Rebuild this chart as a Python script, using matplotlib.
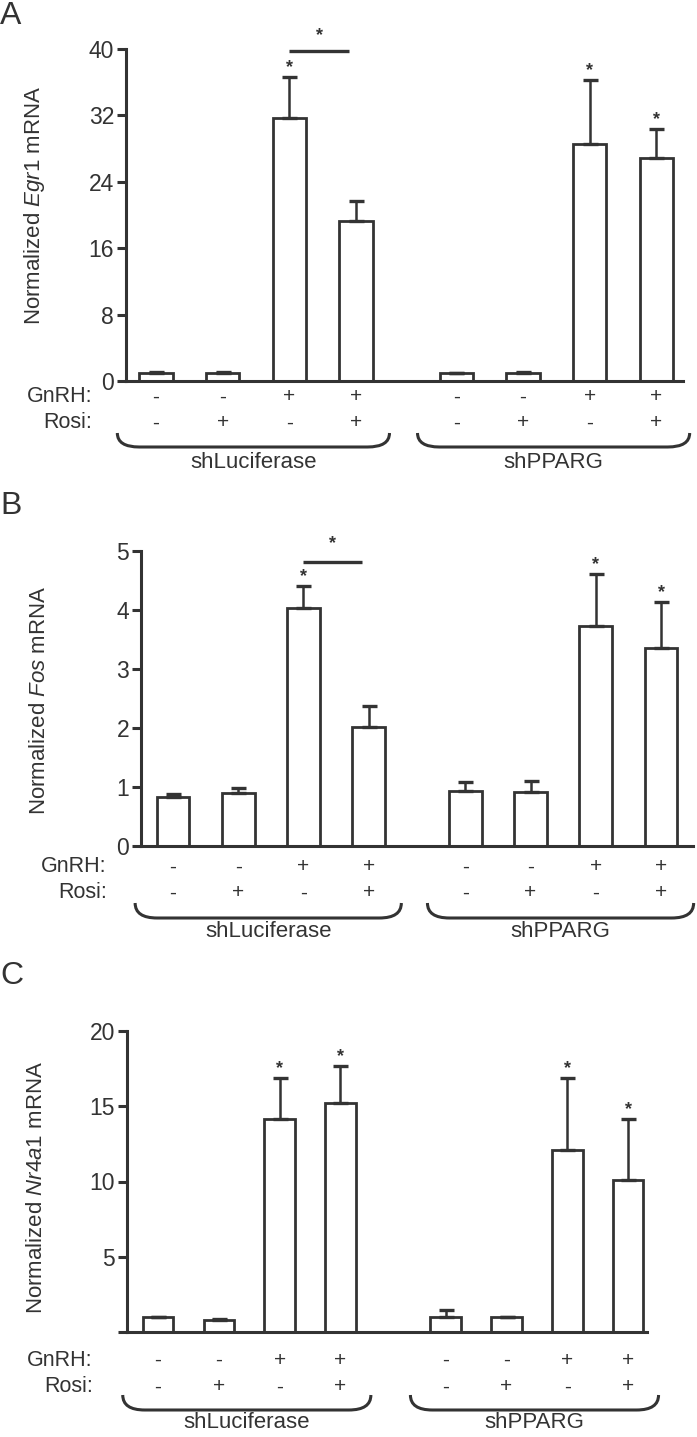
import numpy as np
import matplotlib
matplotlib.use("Agg")
import matplotlib.pyplot as plt
import matplotlib.transforms as mtransforms
from matplotlib.path import Path
from matplotlib.patches import PathPatch

plt.rcParams['font.family'] = ['Liberation Sans', 'DejaVu Sans']
plt.rcParams['mathtext.fontset'] = 'custom'
plt.rcParams['mathtext.rm'] = 'Liberation Sans'
plt.rcParams['mathtext.it'] = 'Liberation Sans:italic'

INK = '#333333'
W, H, DPI = 697, 1437, 100

# --- data ---
gnrh = ['-', '-', '+', '+', '-', '-', '+', '+']
rosi = ['-', '+', '-', '+', '-', '+', '-', '+']
groups = ['shLuciferase', 'shPPARG']

egr1_mean = [1.0, 1.0, 31.7, 19.3, 1.0, 1.0, 28.6, 26.9]
egr1_err = [0.12, 0.12, 4.9, 2.4, 0.0, 0.12, 7.7, 3.5]
egr1_star = [0, 0, 1, 0, 0, 0, 1, 1]
egr1_ticks = [0, 8, 16, 24, 32, 40]

fos_mean = [0.83, 0.89, 4.04, 2.02, 0.93, 0.91, 3.73, 3.36]
fos_err = [0.05, 0.09, 0.37, 0.35, 0.15, 0.20, 0.88, 0.78]
fos_star = [0, 0, 1, 0, 0, 0, 1, 1]
fos_ticks = [0, 1, 2, 3, 4, 5]

nr4a1_mean = [1.0, 0.8, 14.15, 15.2, 1.0, 1.0, 12.1, 10.1]
nr4a1_err = [0.0, 0.07, 2.75, 2.5, 0.45, 0.0, 4.8, 4.05]
nr4a1_star = [0, 0, 1, 1, 0, 0, 1, 1]
nr4a1_ticks = [0, 5, 10, 15, 20]
nr4a1_ticklabels = ['', '5', '10', '15', '20']

fig = plt.figure(figsize=(W / DPI, H / DPI), dpi=DPI)


def panel(box, gap, xlim, ylim, mean, err, star, ticks, ticklabels, gene,
          letter, letter_y, ylabel_xy, rows, sig=None):
    l, t, r, b = box
    aw, ah = r - l, b - t
    ax = fig.add_axes([l / W, 1 - b / H, aw / W, ah / H])
    idx = np.arange(len(mean))
    x = idx + (gap - 1) * (idx >= 4)
    ax.bar(x, mean, width=0.5, facecolor='white', edgecolor=INK,
           linewidth=2.0, zorder=2)
    ax.errorbar(x, mean, yerr=[np.zeros(len(err)), err], fmt='none',
                ecolor=INK, elinewidth=1.8, capsize=5.4, capthick=2.4,
                zorder=3)
    for xi, m, e, s in zip(x, mean, err, star):
        if s:
            ax.annotate('*', (xi, m + e), xytext=(0, 0.5),
                        textcoords='offset points', ha='center', va='bottom',
                        fontsize=13, fontweight='bold', color=INK,
                        annotation_clip=False)
    ax.set_xlim(*xlim)
    ax.set_ylim(*ylim)
    ax.set_xticks([])
    ax.set_yticks(ticks)
    ax.set_yticklabels(ticklabels)
    for side in ['top', 'right']:
        ax.spines[side].set_visible(False)
    for side in ['left', 'bottom']:
        ax.spines[side].set_linewidth(2.2)
        ax.spines[side].set_color(INK)
    ax.tick_params(axis='y', direction='out', length=6.5, width=2.2,
                   colors=INK, labelsize=16.5, pad=2)
    ax.patch.set_alpha(0)

    ax.set_ylabel(r'Normalized $\mathit{%s}$ mRNA' % gene, fontsize=16,
                  color=INK)
    ax.yaxis.set_label_coords((ylabel_xy[0] - l) / aw,
                              (b - ylabel_xy[1]) / ah)

    # significance bracket between bar 3 and bar 4
    if sig is not None:
        ly, sy = sig
        ax.plot([x[2], x[3] - 0.1], [ly, ly], color=INK, lw=2.4,
                clip_on=False, solid_capstyle='butt')
        ax.text((x[2] + x[3] - 0.1) / 2, sy, '*', ha='center', va='center',
                fontsize=13, fontweight='bold', color=INK, clip_on=False)

    # treatment rows and group braces
    tr = mtransforms.blended_transform_factory(ax.transData, ax.transAxes)
    g_y, r_y, b_top, b_bot, lab_y = [v / ah for v in rows]
    lab_x = -34 / aw
    ax.text(lab_x, -g_y, 'GnRH:', transform=ax.transAxes, ha='right',
            va='center', fontsize=15.5, color=INK)
    ax.text(lab_x, -r_y, 'Rosi:', transform=ax.transAxes, ha='right',
            va='center', fontsize=15.5, color=INK)
    for xi, gsign, rsign in zip(x, gnrh, rosi):
        ax.text(xi, -g_y, gsign, transform=tr, ha='center', va='center',
                fontsize=15, color=INK)
        ax.text(xi, -r_y, rsign, transform=tr, ha='center', va='center',
                fontsize=15, color=INK)
    unit = aw / (xlim[1] - xlim[0])
    rad = 22 / unit
    for gi, name in enumerate(groups):
        x0 = x[gi * 4] - 0.58
        x1 = x[gi * 4 + 3] + 0.5
        verts = [(x0, -b_top), (x0, -b_bot), (x0 + rad, -b_bot),
                 (x1 - rad, -b_bot), (x1, -b_bot), (x1, -b_top)]
        codes = [Path.MOVETO, Path.CURVE3, Path.CURVE3, Path.LINETO,
                 Path.CURVE3, Path.CURVE3]
        ax.add_patch(PathPatch(Path(verts, codes), transform=tr,
                               facecolor='none', edgecolor=INK, lw=2.2,
                               clip_on=False))
        ax.text((x0 + x1) / 2, -lab_y, name, transform=tr, ha='center',
                va='center', fontsize=16, color=INK)

    fig.text(0, 1 - letter_y / H, letter, fontsize=23, color=INK,
             ha='left', va='top')
    return ax


panel((126, 49, 683, 381), 1.5, (-0.45, 7.9), (0, 40), egr1_mean, egr1_err,
      egr1_star, egr1_ticks, [str(v) for v in egr1_ticks], 'Egr1', 'A', 1,
      (47, 205), (16, 42, 52, 66, 82), sig=(39.8, 41.6))

panel((141, 551, 693, 846), 1.48, (-0.49, 7.97), (0, 5), fos_mean, fos_err,
      fos_star, fos_ticks, [str(v) for v in fos_ticks], 'Fos', 'B', 491,
      (50, 700), (21, 47, 57, 72, 86), sig=(4.81, 5.12))

panel((127, 1031, 647, 1332), 1.73, (-0.51, 8.04), (0, 20), nr4a1_mean,
      nr4a1_err, nr4a1_star, nr4a1_ticks, nr4a1_ticklabels, 'Nr4a1', 'C', 961,
      (47, 1188), (28, 55, 63, 78, 90))

fig.savefig('out.png', dpi=DPI)
